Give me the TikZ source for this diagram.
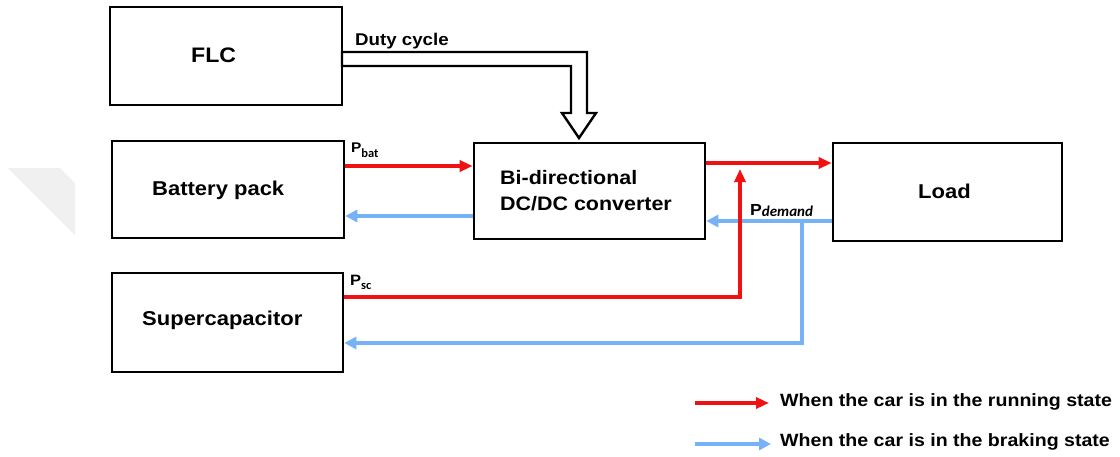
\documentclass[tikz,border=0pt]{standalone}
\usepackage{fontspec}
\setmainfont{Liberation Sans}[FakeStretch=1.1]
\newfontfamily\subfont{Carlito}
\usetikzlibrary{arrows.meta}
\definecolor{runred}{RGB}{240,18,18}
\definecolor{brakeblue}{RGB}{118,178,245}
\tikzset{
  box/.style={draw=black, line width=2.6pt, inner sep=0pt},
  boxlabel/.style={font=\fontsize{20}{26}\selectfont\bfseries, inner sep=0pt, align=left},
  runarrow/.style={draw=runred, line width=3.5pt, -{Triangle[length=13pt,width=11pt]}},
  runline/.style={draw=runred, line width=3.5pt},
  brakearrow/.style={draw=brakeblue, line width=3.5pt, -{Triangle[length=12pt,width=12pt]}},
  brakeline/.style={draw=brakeblue, line width=3.5pt},
  hollow/.style={draw=black, line width=2.4pt, fill=white, line join=miter},
  legendtext/.style={font=\fontsize{17.8}{20}\selectfont\bfseries, inner sep=0pt, anchor=west},
  plabel/.style={inner sep=0pt, anchor=base west}
}
\begin{document}
\begin{tikzpicture}[x=1pt,y=-1pt]
\useasboundingbox (0,0) rectangle (1120,456);
% faint watermark
\fill[black!6] (8,168) -- (60,168) -- (75,183) -- (75,235) -- cycle;

% boxes
\node[box, minimum width=232pt, minimum height=98pt] (flc) at (226,56) {};
\node[box, minimum width=232pt, minimum height=97pt] (bat) at (228,189.5) {};
\node[box, minimum width=231pt, minimum height=96pt] (conv) at (589.5,191) {};
\node[box, minimum width=229pt, minimum height=98pt] (load) at (947.5,192) {};
\node[box, minimum width=231pt, minimum height=99pt] (sc) at (227.5,322.5) {};

% box labels
\node[boxlabel, anchor=base west, font=\fontsize{21}{26}\selectfont\bfseries] (flct) at (191,62) {FLC};
\node[boxlabel, anchor=base west] (batt) at (152,195) {Battery pack};
\node[boxlabel, anchor=base west] (loadt) at (918,198) {Load};
\node[boxlabel, anchor=base west] (sct) at (142,325) {Supercapacitor};
\node[boxlabel, anchor=north west, font=\fontsize{19.5}{26}\selectfont\bfseries] (convt) at (500,170) {Bi-directional\\DC/DC converter};

% duty cycle hollow arrow
\coordinate (d1) at (342,52);
\coordinate (d2) at (342,66);
\draw[hollow] (d1) -- (587,52) -- (587,113) -- (596,113) -- (579,138) -- (562,113) -- (571,113) -- (571,66) -- (d2) -- cycle;
\node[plabel, font=\fontsize{17}{20}\selectfont\bfseries] (duty) at (355,45) {Duty cycle};

% helper levels
\coordinate (ybat) at (0,166);
\coordinate (ybatb) at (0,216);
\coordinate (yload) at (0,163);
\coordinate (yloadb) at (0,221);
\coordinate (ysc) at (0,297);
\coordinate (yscb) at (0,343);
\coordinate (rtip) at (740,169);
\coordinate (bj) at (802,221);

% battery <-> converter
\draw[runarrow] (bat.east |- ybat) -- (conv.west |- ybat);
\draw[brakearrow] (conv.west |- ybatb) -- (bat.east |- ybatb);
% converter <-> load
\draw[runarrow] (conv.east |- yload) -- (load.west |- yload);
\draw[brakearrow] (load.west |- yloadb) -- (conv.east |- yloadb);
% supercapacitor paths
\draw[runarrow] (sc.east |- ysc) -| (rtip);
\draw[brakearrow] (bj) |- (sc.east |- yscb);

% power labels
\node[plabel] (pbat) at (351,152) {\fontsize{14}{16}\selectfont\bfseries P\raisebox{-5pt}{\subfont\fontsize{12.5}{13}\selectfont\bfseries bat}};
\node[plabel] (pdem) at (750,215) {\fontsize{16}{18}\selectfont\bfseries P\raisebox{-1pt}{\subfont\fontsize{15}{16}\selectfont\bfseries\itshape demand}};
\node[plabel] (psc) at (350,285) {\fontsize{15}{16}\selectfont\bfseries P\raisebox{-4pt}{\subfont\fontsize{12.5}{13}\selectfont\bfseries sc}};

% legend
\coordinate (lr1) at (695,403);
\coordinate (lr2) at (769,403);
\coordinate (lb1) at (695,444);
\coordinate (lb2) at (771,444);
\draw[runarrow] (lr1) -- (lr2);
\draw[brakearrow] (lb1) -- (lb2);
\node[legendtext] (lrt) at (780,402) {When the car is in the running state};
\node[legendtext] (lbt) at (780,442) {When the car is in the braking state};
\end{tikzpicture}
\end{document}
